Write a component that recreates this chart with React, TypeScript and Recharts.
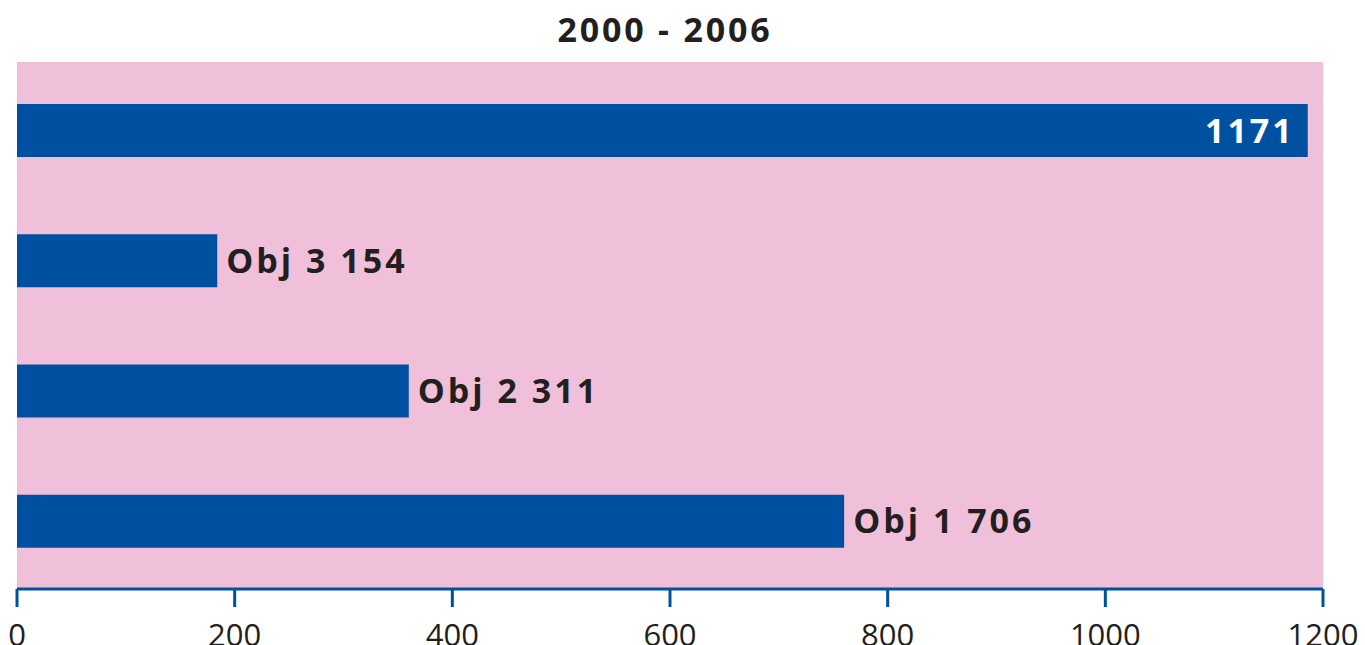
import { BarChart, Bar, XAxis, YAxis, CartesianGrid, LabelList } from 'recharts'

document.body.style.margin = '0'

const title = '2000 - 2006'
const categories = ['Total', 'Obj 3', 'Obj 2', 'Obj 1']
const barValues = [1186, 184, 360, 760]
const labelTexts = ['1171', 'Obj 3 154', 'Obj 2 311', 'Obj 1 706']
const xTicks = [0, 200, 400, 600, 800, 1000, 1200]

const data = categories.map((c, i) => ({ cat: c, value: barValues[i] }))

const BLUE = '#0050A2'
const PINK = '#F0BFDA'
const INK = '#231F20'
const FONT = '"Open Sans", "Noto Sans", sans-serif'

const renderLabel = (props: any) => {
    const { x, y, width, height, index } = props
    const base = y + height / 2 + 12
    if (index === 0) {
        return (
            <text x={x + width - 13} y={base} textAnchor="end" fill="#ffffff"
                fontFamily={FONT} fontSize={34} fontWeight={700} letterSpacing={3}>
                {labelTexts[index]}
            </text>
        )
    }
    return (
        <text x={x + width + 9} y={base} textAnchor="start" fill={INK}
            fontFamily={FONT} fontSize={34} fontWeight={700} letterSpacing={3}>
            {labelTexts[index]}
        </text>
    )
}

export default function App() {
    return (
        <div style={{ position: 'relative', width: 1365, height: 645, overflow: 'hidden', background: '#fff' }}>
            <div style={{
                position: 'absolute', top: 6, left: 0, width: 1330, textAlign: 'center',
                fontFamily: FONT, fontSize: 34, fontWeight: 700, lineHeight: '46px',
                color: INK, letterSpacing: 2.8,
            }}>
                {title}
            </div>
            <BarChart
                width={1365}
                height={645}
                data={data}
                layout="vertical"
                margin={{ top: 62, right: 42, left: 17, bottom: 0 }}
            >
                <CartesianGrid fill={PINK} horizontal={false} vertical={false} stroke="none" />
                <XAxis
                    type="number"
                    domain={[0, 1200]}
                    ticks={xTicks}
                    interval={0}
                    height={56}
                    axisLine={{ stroke: BLUE, strokeWidth: 3 }}
                    tickLine={{ stroke: BLUE, strokeWidth: 3 }}
                    tickSize={18}
                    tickMargin={17}
                    tick={{ fill: INK, fontSize: 31, fontFamily: FONT }}
                />
                <YAxis
                    type="category"
                    dataKey="cat"
                    width={0}
                    tick={false}
                    tickLine={false}
                    padding={{ top: 3, bottom: 3 }}
                    axisLine={{ stroke: BLUE, strokeWidth: 3 }}
                />
                <Bar dataKey="value" fill={BLUE} barSize={53} isAnimationActive={false}>
                    <LabelList dataKey="value" content={renderLabel} />
                </Bar>
            </BarChart>
        </div>
    )
}
